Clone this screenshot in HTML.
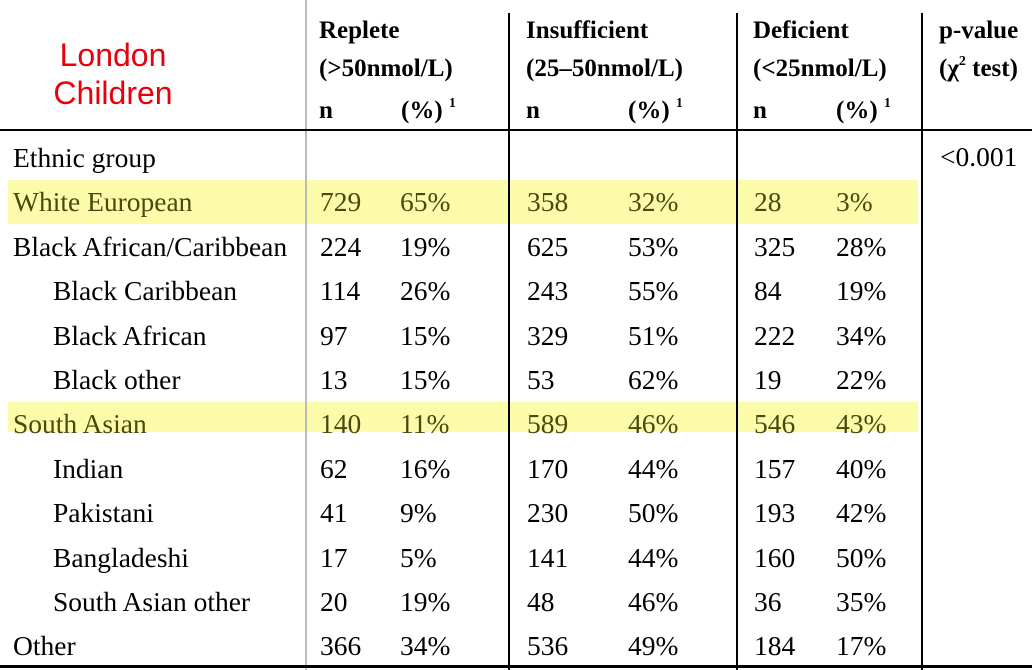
<!DOCTYPE html>
<html><head><style>
body{margin:0;width:1032px;height:670px;background:#fff;position:relative;overflow:hidden;font-family:"Liberation Serif","Times New Roman",serif;color:#000}
.t{position:absolute;font-family:"Liberation Serif","Times New Roman",serif;font-size:27.5px;line-height:32px;white-space:nowrap}
.h{position:absolute;font-family:"Liberation Serif","Times New Roman",serif;font-size:25px;font-weight:bold;line-height:28px;white-space:nowrap}
.s{position:relative;top:-11px;font-size:14px}
.l{position:absolute;background:#000}
.hl{position:absolute;background:#fbfba0;opacity:.9}
.y{color:#4a4a10}
</style></head><body>
<div class="hl" style="left:8px;top:180px;width:910px;height:44px"></div>
<div class="hl" style="left:8px;top:402px;width:910px;height:30px"></div>
<div style="position:absolute;left:0;width:226px;top:36px;text-align:center;color:#e8000b;font-family:'Liberation Sans',sans-serif;font-size:32px;line-height:38px">London<br>Children</div>
<div class="l" style="left:305px;top:0;width:2px;height:670px;background:#bbb"></div>
<div class="l" style="left:508px;top:13px;width:2px;height:657px"></div>
<div class="l" style="left:736px;top:13px;width:2px;height:657px"></div>
<div class="l" style="left:921px;top:13px;width:2px;height:657px"></div>
<div class="l" style="left:0;top:129px;width:1032px;height:2px"></div>
<div class="l" style="left:0;top:665px;width:1032px;height:3px"></div>
<div class="h" style="left:319px;top:17px">Replete</div>
<div class="h" style="left:319px;top:55px">(&gt;50nmol/L)</div>
<div class="h" style="left:526px;top:17px">Insufficient</div>
<div class="h" style="left:526px;top:55px">(25–50nmol/L)</div>
<div class="h" style="left:753px;top:17px">Deficient</div>
<div class="h" style="left:753px;top:55px">(&lt;25nmol/L)</div>
<div class="h" style="left:939px;top:17px">p-value</div>
<div class="h" style="left:939px;top:55px">(χ<span class="s">2</span> test)</div>
<div class="h" style="left:319px;top:97px">n</div><div class="h" style="left:401px;top:97px">(%) <span class="s">1</span></div>
<div class="h" style="left:526px;top:97px">n</div><div class="h" style="left:628px;top:97px">(%) <span class="s">1</span></div>
<div class="h" style="left:753px;top:97px">n</div><div class="h" style="left:836px;top:97px">(%) <span class="s">1</span></div>
<div class="t" style="left:940px;top:141px">&lt;0.001</div>
<div id="rows"></div>
<script>
var d=[["Ethnic group",0,"","","","","","",0],
["White European",0,"729","65%","358","32%","28","3%",1],
["Black African/Caribbean",0,"224","19%","625","53%","325","28%",0],
["Black Caribbean",1,"114","26%","243","55%","84","19%",0],
["Black African",1,"97","15%","329","51%","222","34%",0],
["Black other",1,"13","15%","53","62%","19","22%",0],
["South Asian",0,"140","11%","589","46%","546","43%",1],
["Indian",1,"62","16%","170","44%","157","40%",0],
["Pakistani",1,"41","9%","230","50%","193","42%",0],
["Bangladeshi",1,"17","5%","141","44%","160","50%",0],
["South Asian other",1,"20","19%","48","46%","36","35%",0],
["Other",0,"366","34%","536","49%","184","17%",0]];
var xs=[320,400,527,628,754,836],h="";
d.forEach(function(r,i){var top=142+i*44.4;var c=r[8]?' y':'';
h+='<div class="t'+c+'" style="left:'+(r[1]?53:13)+'px;top:'+top+'px">'+r[0]+'</div>';
for(var k=0;k<6;k++)h+='<div class="t'+c+'" style="left:'+xs[k]+'px;top:'+top+'px">'+r[k+2]+'</div>';});
document.getElementById("rows").innerHTML=h;
</script>
</body></html>
